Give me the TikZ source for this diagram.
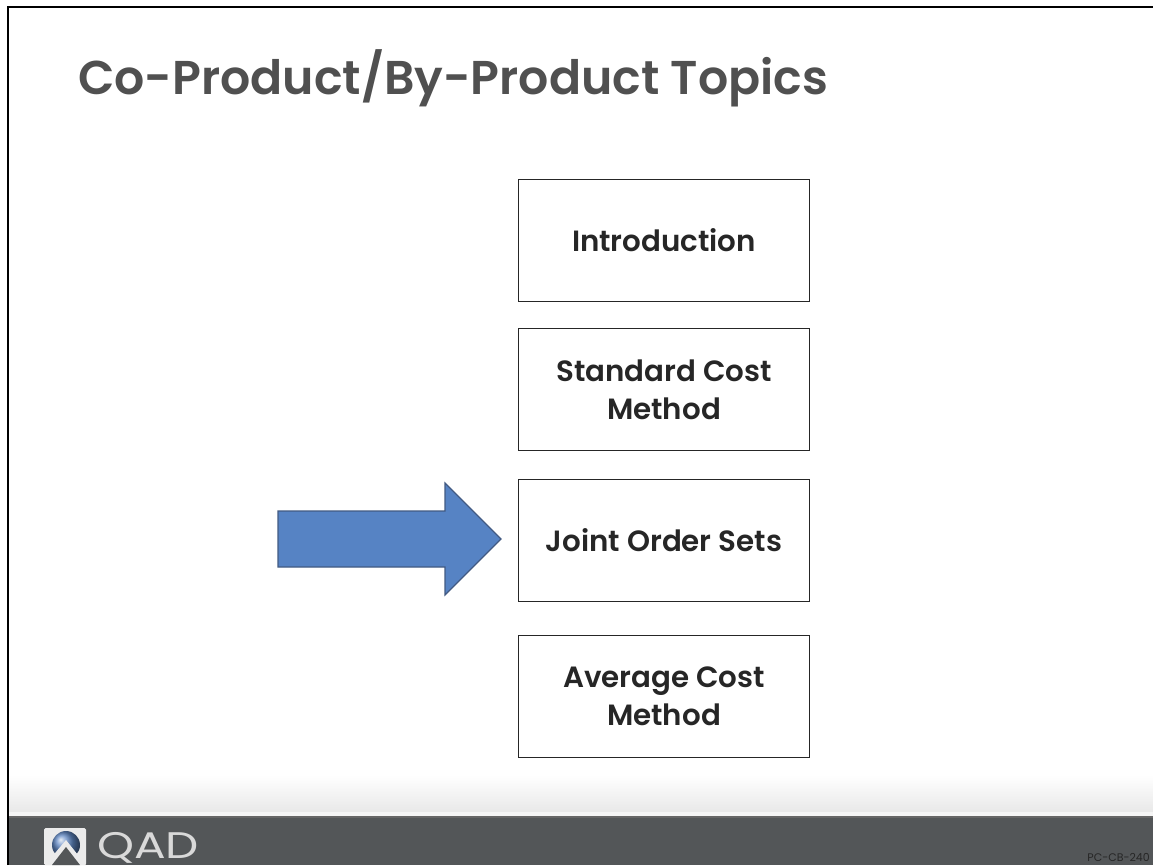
\documentclass[tikz,border=0pt]{standalone}
\usepackage{fontspec}
\setmainfont{Poppins}[BoldFont={Poppins SemiBold}]
\usetikzlibrary{calc}
\definecolor{titlegray}{RGB}{80,80,80}
\definecolor{barfill}{RGB}{83,86,88}
\definecolor{arrowfill}{RGB}{86,131,196}
\definecolor{arrowline}{RGB}{66,90,130}
\definecolor{ballblue}{RGB}{95,135,195}
\tikzset{
  topicbox/.style={draw=black!85,line width=1.2pt,fill=white,minimum width=291pt,minimum height=122pt,inner sep=0pt,align=center,text=black!85,font=\bfseries\fontsize{29.3}{38}\selectfont},
}
\begin{document}
\begin{tikzpicture}[x=1pt,y=-1pt]
\useasboundingbox (0,0) rectangle (1153,865);
\fill[white] (0,0) rectangle (1153,865);
\shade[top color=white,bottom color=black!9] (9,775) rectangle (1153,812);
\fill[black!4] (9,812) rectangle (1153,816);
\fill[black!60] (9,816) rectangle (1153,817.5);
\fill[barfill] (9,817.5) rectangle (1153,865);
\draw[black,line width=2.5pt] (8,865) -- (8,7) -- (1153,7);
\node[anchor=base west,text=titlegray,font=\bfseries\fontsize{47.4}{50}\selectfont,inner sep=0pt] (title) at (78,94) {Co-Product/By-Product Topics};
\node[topicbox] (intro) at (664,240.5) {Introduction};
\node[topicbox] (std) at (664,389.5) {Standard Cost\\Method};
\node[topicbox] (joint) at (664,540.5) {Joint Order Sets};
\node[topicbox] (avg) at (664,696.5) {Average Cost\\Method};
\draw[draw=arrowline,fill=arrowfill,line width=1.2pt,line join=miter]
  (278,511) -- (445,511) -- (445,483) -- (501,539) -- (445,595) -- (445,567) -- (278,567) -- cycle;
% logo
\fill[white!92!black,rounded corners=1.5pt] (44,828) rectangle (86,865);
\begin{scope}
\clip (46,830) rectangle (84,865);
\shade[ball color=ballblue] (66,845) circle (14);
\end{scope}
\fill[white!92!black] (45,865) -- (66,840) -- (86,865) -- cycle;
\fill[barfill] (52,865) -- (66,847) -- (80,865) -- cycle;
\node[anchor=base west,xscale=1.27,text=white!85!black,font=\fontsize{37}{40}\selectfont,inner sep=0pt] (qad) at (97,858) {QAD};
\node[anchor=east,text=black!85,font=\fontsize{11}{12}\selectfont,inner sep=0pt] (code) at (1150,857) {PC-CB-240};
\end{tikzpicture}
\end{document}
